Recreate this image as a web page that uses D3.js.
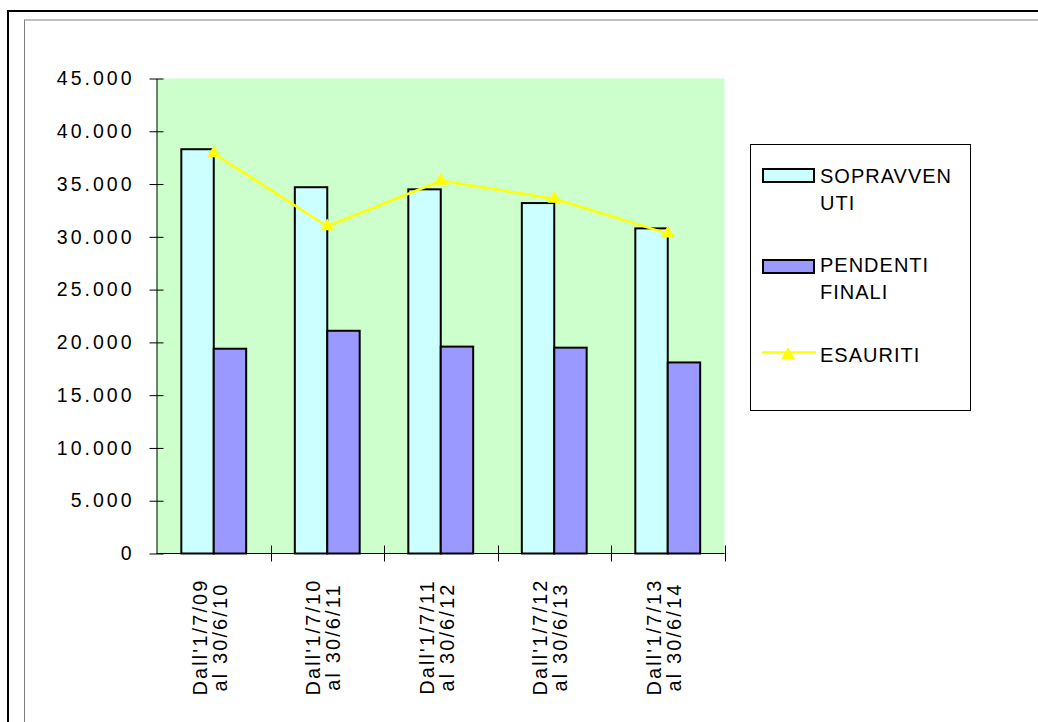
<!DOCTYPE html>
<html>
<head>
<meta charset="utf-8">
<script src="https://cdn.jsdelivr.net/npm/d3@7"></script>
<style>
  html, body { margin: 0; padding: 0; background: #fff; }
  svg { display: block; }
  text { font-family: "Liberation Sans", Arial, sans-serif; fill: #000; }
</style>
</head>
<body>
<svg id="chart" width="1038" height="722"></svg>
<script>
// ---- data ----
const categories = [
  ["Dall'1/7/09", "al 30/6/10"],
  ["Dall'1/7/10", "al 30/6/11"],
  ["Dall'1/7/11", "al 30/6/12"],
  ["Dall'1/7/12", "al 30/6/13"],
  ["Dall'1/7/13", "al 30/6/14"]
];
const sopravvenuti = [38300, 34700, 34500, 33200, 30800];
const pendentiFinali = [19400, 21100, 19600, 19500, 18100];
const esauriti = [37900, 31000, 35300, 33600, 30300];
const yTicks = [0, 5000, 10000, 15000, 20000, 25000, 30000, 35000, 40000, 45000];
const legendLabels = [["SOPRAVVEN", "UTI"], ["PENDENTI", "FINALI"], ["ESAURITI"]];

// ---- setup ----
const svg = d3.select("#chart");
const locale = d3.formatLocale({decimal: ",", thousands: ".", grouping: [3], currency: ["", ""]});
const fmt = locale.format(",d");

const plot = {left: 156.5, right: 724.5, top: 78.5, bottom: 553.5};
const keys = categories.map((c, i) => i);
const x = d3.scaleBand().domain(keys).range([plot.left + 0.5, plot.right]).paddingInner(0).paddingOuter(0);
const y = d3.scaleLinear().domain([0, 45000]).range([plot.bottom, plot.top]);

// frames
svg.append("rect").attr("x", 8).attr("y", 11).attr("width", 1100).attr("height", 800)
  .attr("fill", "none").attr("stroke", "#000").attr("stroke-width", 2);
svg.append("rect").attr("x", 24.5).attr("y", 20).attr("width", 1100).attr("height", 800)
  .attr("fill", "none").attr("stroke", "#808080").attr("stroke-width", 1);

// plot background
svg.append("rect").attr("x", plot.left).attr("y", plot.top)
  .attr("width", plot.right - plot.left).attr("height", plot.bottom - plot.top)
  .attr("fill", "#CCFFCC");

// bars
const bw = x.bandwidth() / 3.5;
const gBars = svg.append("g");
gBars.selectAll("rect.s").data(sopravvenuti).join("rect").attr("class", "s")
  .attr("x", (d, i) => x(i) + 0.75 * bw).attr("y", d => y(d))
  .attr("width", bw).attr("height", d => y(0) - y(d))
  .attr("fill", "#CCFFFF").attr("stroke", "#000").attr("stroke-width", 2);
gBars.selectAll("rect.p").data(pendentiFinali).join("rect").attr("class", "p")
  .attr("x", (d, i) => x(i) + 1.75 * bw).attr("y", d => y(d))
  .attr("width", bw).attr("height", d => y(0) - y(d))
  .attr("fill", "#9999FF").attr("stroke", "#000").attr("stroke-width", 2);

// y axis
const yAxis = d3.axisLeft(y).tickValues(yTicks).tickFormat(fmt).tickSize(0).tickPadding(22);
const gy = svg.append("g").attr("transform", `translate(${plot.left},0)`).call(yAxis);
gy.select(".domain").attr("stroke", "#000").attr("stroke-width", 1);
gy.selectAll(".tick line").remove();
gy.selectAll(".tick").append("line").attr("x1", -7).attr("x2", 7).attr("stroke", "#000");
gy.selectAll(".tick text").style("font-family", '"Liberation Sans", Arial, sans-serif')
  .style("font-size", "19.5px").style("letter-spacing", "3px").attr("fill", "#000");

// x axis
const gx = svg.append("g").attr("transform", `translate(0,${plot.bottom})`);
gx.append("line").attr("x1", plot.left).attr("x2", plot.right).attr("stroke", "#000");
const tickXs = keys.map(k => x(k)).concat([x(keys[keys.length - 1]) + x.bandwidth()]);
gx.selectAll("line.t").data(tickXs.slice(1)).join("line").attr("class", "t")
  .attr("x1", d => Math.round(d) + 0.5).attr("x2", d => Math.round(d) + 0.5)
  .attr("y1", -8).attr("y2", 8).attr("stroke", "#000");

const labels = svg.append("g");
categories.forEach((c, i) => {
  const cx = x(i) + x.bandwidth() / 2;
  const t = labels.append("text")
    .attr("transform", `translate(${cx},637) rotate(-90)`)
    .attr("text-anchor", "middle")
    .style("font-size", "20px").style("letter-spacing", "2.1px");
  t.append("tspan").attr("x", 0).attr("y", -7).text(c[0]);
  t.append("tspan").attr("x", 0).attr("y", 13).text(c[1]);
});

// line series
const line = d3.line().x((d, i) => x(i) + x.bandwidth() / 2).y(d => y(d));
svg.append("path").datum(esauriti).attr("d", line)
  .attr("fill", "none").attr("stroke", "#FFFF00").attr("stroke-width", 2.5);
const tri = d3.symbol().type(d3.symbolTriangle).size(80);
svg.selectAll("path.m").data(esauriti).join("path").attr("class", "m")
  .attr("transform", (d, i) => `translate(${x(i) + x.bandwidth() / 2},${y(d)})`)
  .attr("d", tri).attr("fill", "#FFFF00");

// legend
const lg = svg.append("g");
lg.append("rect").attr("x", 750.5).attr("y", 144.5).attr("width", 220).attr("height", 266)
  .attr("fill", "#fff").attr("stroke", "#000").attr("stroke-width", 1);
const sw = [{fill: "#CCFFFF", y: 169}, {fill: "#9999FF", y: 260}];
sw.forEach(s => {
  lg.append("rect").attr("x", 763).attr("y", s.y).attr("width", 51).attr("height", 13)
    .attr("fill", s.fill).attr("stroke", "#000").attr("stroke-width", 2);
});
lg.append("line").attr("x1", 762).attr("x2", 816).attr("y1", 352.5).attr("y2", 352.5)
  .attr("stroke", "#FFFF00").attr("stroke-width", 2.5);
lg.append("path").attr("transform", "translate(788,355)").attr("d", tri).attr("fill", "#FFFF00");
const baselines = [[183, 210], [272, 299], [362]];
legendLabels.forEach((lab, i) => {
  lab.forEach((s, j) => {
    lg.append("text").attr("x", 820).attr("y", baselines[i][j])
      .style("font-size", "20px").style("letter-spacing", "1px").text(s);
  });
});
</script>
</body>
</html>
